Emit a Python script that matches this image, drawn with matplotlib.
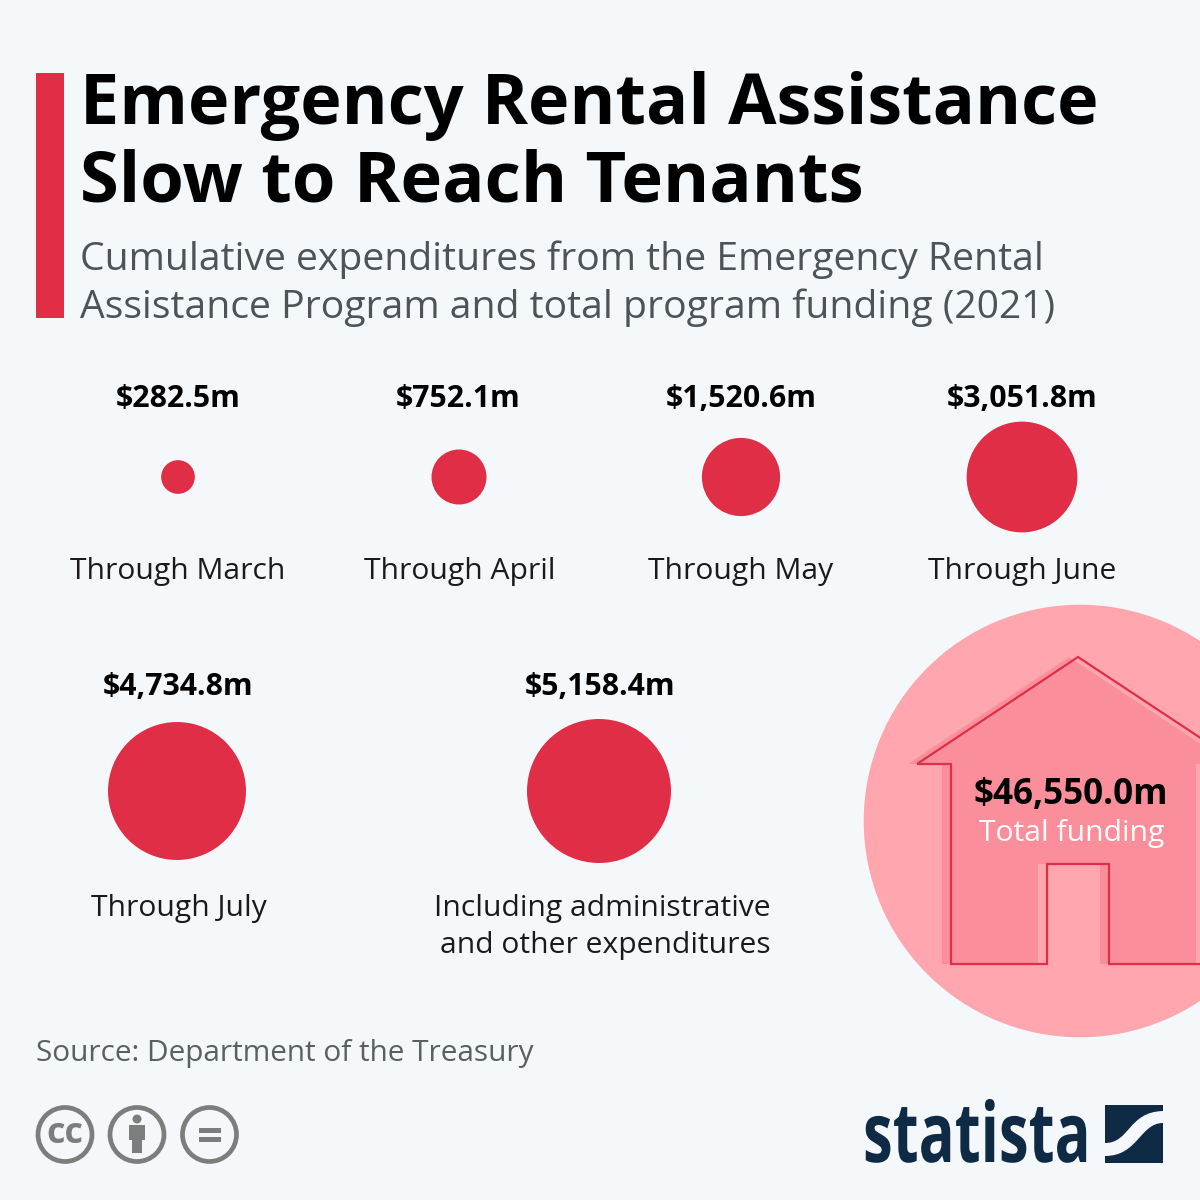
import numpy as np
import matplotlib
matplotlib.use('Agg')
import matplotlib.pyplot as plt
from matplotlib.patches import Circle, Rectangle, PathPatch, Polygon
from matplotlib.path import Path
from matplotlib.patheffects import AbstractPathEffect
from matplotlib.transforms import Affine2D

title_lines = ['Emergency Rental Assistance', 'Slow to Reach Tenants']
subtitle_lines = ['Cumulative expenditures from the Emergency Rental',
                  'Assistance Program and total program funding (2021)']
periods = ['Through March', 'Through April', 'Through May', 'Through June', 'Through July']
spend = [282.5, 752.1, 1520.6, 3051.8, 4734.8]
admin_lines = ['Including administrative', 'and other expenditures']
admin_spend = 5158.4
total_funding = 46550.0
total_label = 'Total funding'
source = 'Source: Department of the Treasury'

BG = '#f5f8fb'
RED = '#e12e47'
PINK = '#ffa6ae'
HOUSE = '#fa8f9b'
GREY = '#7a7f7d'
NAVY = '#0f2a44'
FONT = 'Open Sans'


class Squeeze(AbstractPathEffect):
    # narrows the glyphs around a display x, for the condensed logo lettering
    def __init__(self, x0, sx):
        super().__init__()
        self.x0 = x0
        self.sx = sx

    def draw_path(self, renderer, gc, tpath, affine, rgbFace=None):
        squeeze = Affine2D().translate(-self.x0, 0).scale(self.sx, 1).translate(self.x0, 0)
        renderer.draw_path(gc, tpath, affine + squeeze, rgbFace)


def px(size):
    return size * 0.72


def radius(v):
    # same area scale for every circle
    return 72 * np.sqrt(v / admin_spend)


def money(v):
    return f'${v:,.1f}m'


fig = plt.figure(figsize=(12, 12), dpi=100, facecolor=BG)
ax = fig.add_axes([0, 0, 1, 1])
ax.set_xlim(0, 1200)
ax.set_ylim(1200, 0)
ax.axis('off')

# header
ax.add_patch(Rectangle((36, 73), 28, 245, color=RED, lw=0))
ax.text(80, 124, title_lines[0], fontsize=px(70.1), fontweight='bold', family=FONT, color='#000000', va='baseline')
ax.text(80, 202, title_lines[1], fontsize=px(70.5), fontweight='bold', family=FONT, color='#000000', va='baseline')
for y, line in zip([270, 318], subtitle_lines):
    ax.text(80, y, line, fontsize=px(39.15), family=FONT, color='#4d5356', va='baseline')

# small circles
xs = [178, 459, 741, 1022, 177]
cys = [477, 477, 477, 477, 791]
value_xs = [178, 458, 741, 1022, 178]
label_xs = [178, 460, 741, 1022, 179]
for i, v in enumerate(spend):
    top = 407 if i < 4 else 695
    bottom = 579 if i < 4 else 916
    ax.add_patch(Circle((xs[i], cys[i]), radius(v), color=RED, lw=0))
    ax.text(value_xs[i], top, money(v), fontsize=px(30.2), fontweight='bold', family=FONT, ha='center', va='baseline', color='#000000')
    ax.text(label_xs[i], bottom, periods[i], fontsize=px(30), family=FONT, ha='center', va='baseline', color='#1a1a1a')

ax.add_patch(Circle((599, 791), radius(admin_spend), color=RED, lw=0))
ax.text(600, 695, money(admin_spend), fontsize=px(30.2), fontweight='bold', family=FONT, ha='center', va='baseline', color='#000000')
ax.text(602, 916, admin_lines[0], fontsize=px(30), family=FONT, ha='center', va='baseline', color='#1a1a1a')
ax.text(605, 953, admin_lines[1], fontsize=px(30), family=FONT, ha='center', va='baseline', color='#1a1a1a')

# total funding circle and house
ax.add_patch(Circle((1080, 821), radius(total_funding), color=PINK, lw=0))
house = np.array([(917, 764), (951, 764), (951, 964), (1047, 964), (1047, 864),
                  (1109, 864), (1109, 964), (1205, 964), (1205, 764), (1240, 764), (1078, 657)], dtype=float)
ax.add_patch(Polygon(house + [-9, 0], closed=True, color=HOUSE, lw=0))
ax.add_patch(Polygon(house, closed=True, fill=False, edgecolor=RED, lw=1.6, joinstyle='miter'))
ax.text(1071, 804, money(total_funding), fontsize=px(35), fontweight='bold', family=FONT, ha='center', va='baseline', color='#000000')
ax.text(1072, 841, total_label, fontsize=px(30), family=FONT, ha='center', va='baseline', color='#ffffff')

# footer
ax.text(36, 1061, source, fontsize=px(29.7), family=FONT, color='#5a5f60', va='baseline')

# licence icons
for cx in [65, 137, 209.5]:
    ax.add_patch(Circle((cx, 1134.5), 27, fill=False, edgecolor=GREY, lw=3.4))
ax.text(65, 1134, 'cc', fontsize=px(36), fontweight='bold', family=FONT, color=GREY, ha='center', va='center')
ax.add_patch(Circle((137, 1119), 4.5, color=GREY, lw=0))
ax.add_patch(Rectangle((129, 1125), 16, 15, color=GREY, lw=0))
ax.add_patch(Rectangle((132, 1125), 10, 28, color=GREY, lw=0))
ax.add_patch(Rectangle((199, 1128), 22, 5, color=GREY, lw=0))
ax.add_patch(Rectangle((199, 1137), 22, 5, color=GREY, lw=0))

# logo
ax.text(863, 1162, 'statista', fontsize=px(83), fontweight='bold', family=FONT, color=NAVY, va='baseline',
        path_effects=[Squeeze(863, 0.72)])
ax.add_patch(Rectangle((1105, 1105), 58, 58, color=NAVY, lw=0))
swoosh = Path([(1105, 1143), (1130, 1143), (1128, 1112), (1163, 1111),
               (1163, 1123), (1140, 1123), (1138, 1156), (1105, 1156), (1105, 1143)],
              [Path.MOVETO, Path.CURVE4, Path.CURVE4, Path.CURVE4, Path.LINETO,
               Path.CURVE4, Path.CURVE4, Path.CURVE4, Path.CLOSEPOLY])
ax.add_patch(PathPatch(swoosh, facecolor=BG, lw=0))

fig.savefig('out.png', dpi=100, facecolor=BG)
